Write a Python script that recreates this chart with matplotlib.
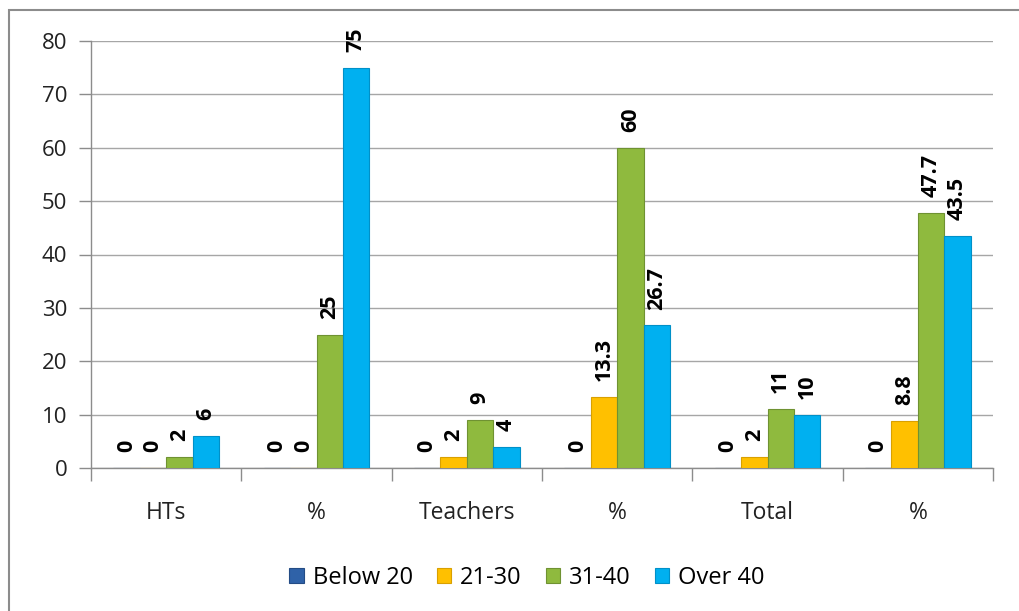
import matplotlib
matplotlib.use("Agg")
import matplotlib.pyplot as plt
import numpy as np
from matplotlib.patches import Rectangle

categories = ["HTs", "%", "Teachers", "%", "Total", "%"]
series_names = ["Below 20", "21-30", "31-40", "Over 40"]
below20 = [0, 0, 0, 0, 0, 0]
age21_30 = [0, 0, 2, 13.3, 2, 8.8]
age31_40 = [2, 25, 9, 60, 11, 47.7]
over40 = [6, 75, 4, 26.7, 10, 43.5]
yticks = [0, 10, 20, 30, 40, 50, 60, 70, 80]

series = [below20, age21_30, age31_40, over40]
faces = ["#2F62A8", "#FFC000", "#8FBA3E", "#00B0F0"]
edges = ["#244C85", "#D9A000", "#6F9232", "#0090C8"]

plt.rcParams['font.family'] = ['Open Sans', 'DejaVu Sans']

fig = plt.figure(figsize=(10.19, 6.11), dpi=100)
fig.patches.append(Rectangle((9/1019, -0.05), 1.2, 1 - 10/611 + 0.05,
                             transform=fig.transFigure, fill=False,
                             edgecolor="#8C8C8C", linewidth=1.5, zorder=0))
ax = fig.add_axes([91/1019, 1 - 468/611, (993 - 91)/1019, (468 - 41)/611])

x = np.arange(len(categories))
bw = 0.176
offsets = (np.arange(4) - 1.5) * bw
for i, (vals, name) in enumerate(zip(series, series_names)):
    ax.bar(x + offsets[i], vals, bw, color=faces[i], edgecolor=edges[i],
           linewidth=0.8, label=name, zorder=3)
    for xi, v in zip(x + offsets[i], vals):
        lab = f"{v:g}"
        ax.annotate(lab, (xi, v), xytext=(0, 11.5), textcoords="offset points",
                    rotation=90, ha="center", va="bottom", fontsize=15.5,
                    fontweight="bold", color="black", zorder=4)

ax.set_xlim(-0.5, len(categories) - 0.5)
ax.set_ylim(0, 80)
ax.set_yticks(yticks)
ax.set_yticklabels([str(t) for t in yticks], fontsize=16, color="#222222")
ax.yaxis.grid(True, color="#A6A6A6", linewidth=1, zorder=0)
ax.set_axisbelow(True)
ax.set_xticks(x)
ax.set_xticklabels(categories, fontsize=16.5, color="#222222")
ax.set_xticks(np.arange(len(categories) + 1) - 0.5, minor=True)
ax.tick_params(axis="x", which="major", length=0, pad=24)
ax.tick_params(axis="x", which="minor", length=9, color="#8C8C8C", width=1)
ax.tick_params(axis="y", length=9, color="#8C8C8C", width=1, pad=8)
for s in ["top", "right"]:
    ax.spines[s].set_visible(False)
for s in ["left", "bottom"]:
    ax.spines[s].set_color("#8C8C8C")
    ax.spines[s].set_linewidth(1)

leg = fig.legend(loc="center", bbox_to_anchor=(527/1019, 1 - 578/611), ncol=4,
                 frameon=False, fontsize=17, handlelength=0.6, handleheight=0.6,
                 handletextpad=0.4, columnspacing=1.0)

fig.savefig("out.png", dpi=100)
